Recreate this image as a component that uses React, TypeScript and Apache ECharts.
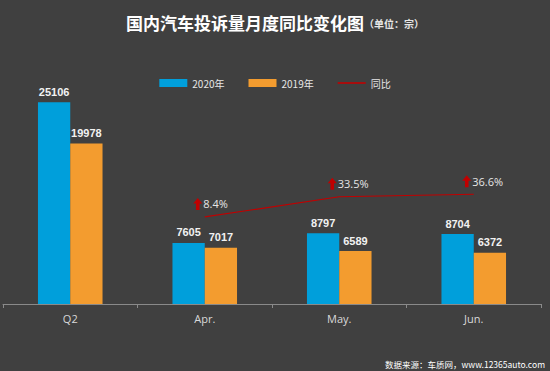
import React, { useEffect, useRef } from "react";
import * as echarts from "echarts";

const categories = ["Q2", "Apr.", "May.", "Jun."];
const values2020 = [25106, 7605, 8797, 8704];
const values2019 = [19978, 7017, 6589, 6372];
const yoyValues: (number | string)[] = ["-", 8.4, 33.5, 36.6];
const seriesNames = ["2020年", "2019年", "同比"];
const titleMain = "国内汽车投诉量月度同比变化图";
const titleUnit = "（单位：宗）";
const sourceText = "数据来源：车质网，www.12365auto.com";

export default function App() {
  const ref = useRef<HTMLDivElement>(null);
  useEffect(() => {
    document.body.style.margin = "0";
    const chart = echarts.init(ref.current!, null, { renderer: "svg" });
    const font = "'Liberation Sans', Arial, 'Noto Sans CJK SC', sans-serif";
    const barLabel = {
      show: true,
      position: "top" as const,
      distance: 5,
      color: "#f2f2f2",
      fontWeight: "bold" as const,
      fontSize: 11,
      fontFamily: font,
    };
    chart.setOption({
      animation: false,
      backgroundColor: "#404040",
      textStyle: { fontFamily: font },
      title: {
        text: `{a|${titleMain}}{b|${titleUnit}}`,
        left: "center",
        top: 14,
        padding: 0,
        textStyle: {
          rich: {
            a: { fontSize: 17, fontWeight: "bold", color: "#ffffff", fontFamily: "'Noto Sans CJK SC', sans-serif" },
            b: { fontSize: 10, color: "#e6e6e6", fontFamily: "'Noto Sans CJK SC', sans-serif", padding: [3, 0, 0, 0] },
          },
        },
      },
      legend: {
        top: 73,
        left: "center",
        itemWidth: 28,
        itemHeight: 8,
        itemGap: 24,
        textStyle: { color: "#e6e6e6", fontSize: 10, fontFamily: "'Noto Sans CJK SC', sans-serif" },
        data: [
          { name: seriesNames[0], icon: "rect" },
          { name: seriesNames[1], icon: "rect" },
          { name: seriesNames[2], icon: "path://M0,0 L28,0 L28,1.6 L0,1.6 Z" },
        ],
      },
      grid: { left: 3, right: 9, top: 63, bottom: 67, containLabel: false },
      xAxis: {
        type: "category",
        data: categories,
        boundaryGap: true,
        axisLine: { lineStyle: { color: "#8a8a8a", width: 1 } },
        axisTick: { show: true, alignWithLabel: false, length: 4, lineStyle: { color: "#8a8a8a" } },
        axisLabel: { color: "#d9d9d9", fontSize: 11, margin: 9, fontFamily: "'Open Sans', sans-serif" },
      },
      yAxis: [
        { type: "value", min: 0, max: 30000, show: false, splitLine: { show: false } },
        { type: "value", min: -100, max: 200, show: false, splitLine: { show: false } },
      ],
      series: [
        {
          name: seriesNames[0],
          type: "bar",
          data: values2020,
          barGap: "0%",
          barCategoryGap: "52%",
          itemStyle: { color: "#009fdb" },
          label: barLabel,
        },
        {
          name: seriesNames[1],
          type: "bar",
          data: values2019,
          itemStyle: { color: "#f39c2f" },
          label: barLabel,
        },
        {
          name: seriesNames[2],
          type: "line",
          yAxisIndex: 1,
          data: yoyValues,
          symbol: "path://M5,0 L10,6 L7,6 L7,13 L3,13 L3,6 L0,6 Z",
          symbolSize: [9, 12],
          symbolOffset: [-7, -13],
          showSymbol: true,
          itemStyle: { color: "#c00000", borderWidth: 0 },
          lineStyle: { color: "#c00000", width: 1.2 },
          label: {
            show: true,
            position: "right",
            distance: 1,
            color: "#e6e6e6",
            fontSize: 11,
            fontFamily: "'Open Sans', sans-serif",
            formatter: (p: any) => `${p.value}%`,
          },
        },
      ],
      graphic: [
        {
          type: "text",
          right: 5,
          bottom: 3,
          style: {
            text: sourceText,
            fill: "#ffffff",
            fontSize: 8.5,
            fontFamily: "'Noto Sans CJK SC', sans-serif",
          },
        },
      ],
    });
    return () => chart.dispose();
  }, []);
  return <div ref={ref} style={{ width: 550, height: 371 }} />;
}
